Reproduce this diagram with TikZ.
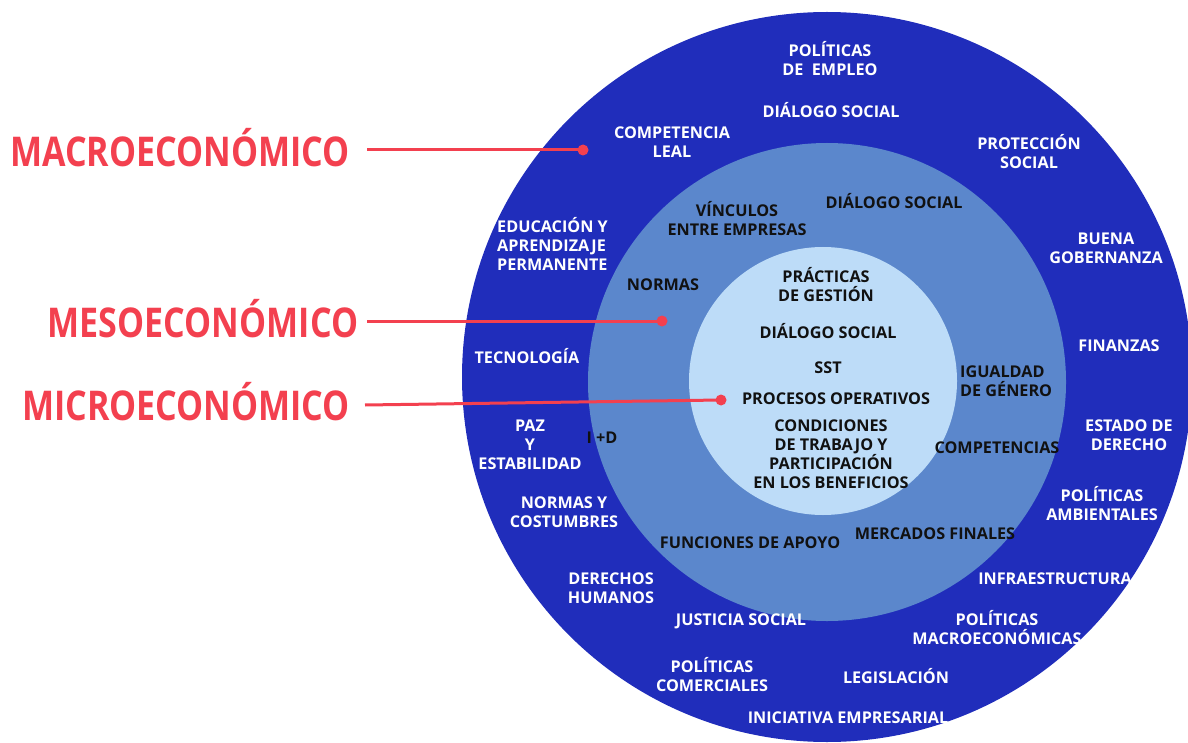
\documentclass[tikz,border=0pt]{standalone}
\usepackage{fontspec}
\setmainfont{Open Sans}
\newfontfamily\titlefont{Open Sans}[FakeStretch=0.83]
\definecolor{macroblue}{HTML}{202DBB}
\definecolor{mesoblue}{HTML}{5B87CC}
\definecolor{microblue}{HTML}{BDDCF8}
\definecolor{lblred}{HTML}{F3404F}
\definecolor{txtdark}{HTML}{111111}
\tikzset{
  ringdisc/.style={circle, inner sep=0pt, draw=none},
  wl/.style={text=white, font=\bfseries\fontsize{16.2}{19}\selectfont, align=center, inner sep=0pt},
  bl/.style={text=txtdark, font=\bfseries\fontsize{16.2}{19}\selectfont, align=center, inner sep=0pt},
  tl/.style={text=lblred, font=\titlefont\bfseries\fontsize{41}{43}\selectfont, inner sep=0pt},
  reddot/.style={circle, fill=lblred, minimum size=11pt, inner sep=0pt},
  conn/.style={draw=lblred, line width=3pt}
}
\begin{document}
\begin{tikzpicture}[x=1pt,y=-1pt]
\useasboundingbox (0,0) rectangle (1188,743);
\clip (0,0) rectangle (1188,743);
% rings
\node[ringdisc, fill=macroblue, minimum size=730pt] (macro) at (827,377) {};
\node[ringdisc, fill=mesoblue, minimum size=478pt] (meso) at (827,382) {};
\node[ringdisc, fill=microblue, minimum size=268pt] (micro) at (823,381) {};
% outer ring labels
\node[wl] (t1) at (830,59) {POLÍTICAS\\DE~ EMPLEO};
\node[wl] (t2) at (831,110) {DIÁLOGO SOCIAL};
\node[wl] (t3) at (672,142) {COMPETENCIA\\LEAL};
\node[wl] (t4) at (1029,152) {PROTECCIÓN\\SOCIAL};
\node[wl, align=left, anchor=west] (t5) at (497,244) {EDUCACIÓN Y\\APRENDIZAJE\\PERMANENTE};
\node[wl] (t6) at (1106,248) {BUENA\\GOBERNANZA};
\node[wl] (t7) at (527,356) {TECNOLOGÍA};
\node[wl] (t8) at (1119,346) {FINANZAS};
\node[wl] (t9) at (530,445) {PAZ\\Y\\ESTABILIDAD};
\node[wl] (t10) at (1129,435) {ESTADO DE\\DERECHO};
\node[wl] (t11) at (564,512) {NORMAS Y\\COSTUMBRES};
\node[wl] (t12) at (1102,504) {POLÍTICAS\\AMBIENTALES};
\node[wl] (t13) at (611,588) {DERECHOS\\HUMANOS};
\node[wl] (t14) at (1055,579) {INFRAESTRUCTURA};
\node[wl] (t15) at (741,621) {JUSTICIA SOCIAL};
\node[wl] (t16) at (997,628) {POLÍTICAS\\MACROECONÓMICAS};
\node[wl] (t17) at (712,675) {POLÍTICAS\\COMERCIALES};
\node[wl] (t18) at (896,676) {LEGISLACIÓN};
\node[wl] (t19) at (848,718) {INICIATIVA EMPRESARIAL};
% middle ring labels
\node[bl] (m1) at (737,219) {VÍNCULOS\\ENTRE EMPRESAS};
\node[bl] (m2) at (894,201) {DIÁLOGO SOCIAL};
\node[bl] (m3) at (663,285) {NORMAS};
\node[bl, align=left, anchor=west] (m4) at (960,381) {IGUALDAD\\DE GÉNERO};
\node[bl] (m5) at (602,438) {I +D};
\node[bl] (m6) at (997,448) {COMPETENCIAS};
\node[bl] (m7) at (935,534) {MERCADOS FINALES};
\node[bl] (m8) at (750,543) {FUNCIONES DE APOYO};
% inner labels
\node[bl] (i1) at (826,285) {PRÁCTICAS\\DE GESTIÓN};
\node[bl] (i2) at (828,331) {DIÁLOGO SOCIAL};
\node[bl] (i3) at (828,368) {SST};
\node[bl] (i4) at (836,399) {PROCESOS OPERATIVOS};
\node[bl] (i5) at (831,454) {CONDICIONES\\DE TRABAJO Y\\PARTICIPACIÓN\\EN LOS BENEFICIOS};
% level titles
\node[tl] (L1) at (180,148) {MACROECONÓMICO};
\node[tl] (L2) at (203,319) {MESOECONÓMICO};
\node[tl] (L3) at (186,402) {MICROECONÓMICO};
% connectors
\coordinate (s1) at (367,150);
\coordinate (s2) at (367,321);
\coordinate (s3) at (365,405);
\node[reddot] (d1) at (583,150) {};
\node[reddot] (d2) at (662,321) {};
\node[reddot] (d3) at (721,400) {};
\draw[conn] (s1) -- (d1.center);
\draw[conn] (s2) -- (d2.center);
\draw[conn] (s3) -- (d3.center);
\end{tikzpicture}
\end{document}
